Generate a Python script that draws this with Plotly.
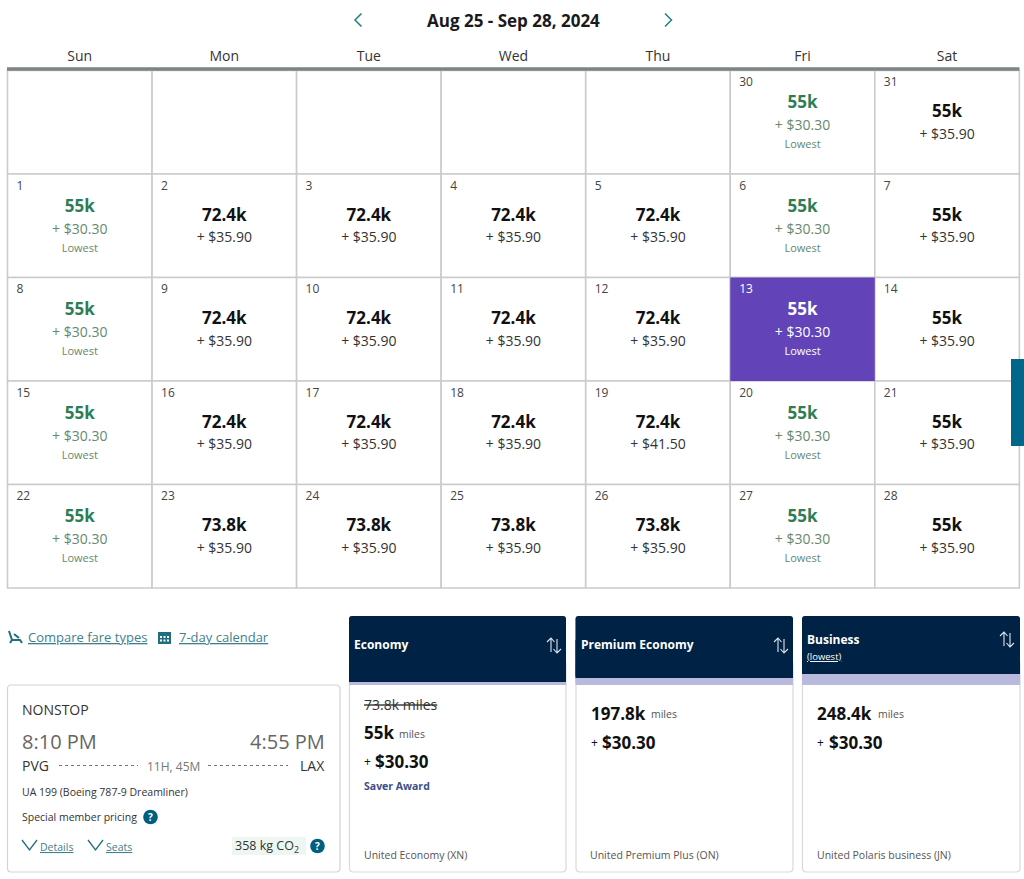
import plotly.graph_objects as go

# ---------- data ----------
weekdays = ["Sun", "Mon", "Tue", "Wed", "Thu", "Fri", "Sat"]
title = "Aug 25 - Sep 28, 2024"
dates = [30, 31, 1, 2, 3, 4, 5, 6, 7, 8, 9, 10, 11, 12, 13, 14, 15, 16, 17, 18, 19, 20, 21, 22, 23, 24, 25, 26, 27, 28]
miles = ["55k", "55k",
         "55k", "72.4k", "72.4k", "72.4k", "72.4k", "55k", "55k",
         "55k", "72.4k", "72.4k", "72.4k", "72.4k", "55k", "55k",
         "55k", "72.4k", "72.4k", "72.4k", "72.4k", "55k", "55k",
         "55k", "73.8k", "73.8k", "73.8k", "73.8k", "55k", "55k"]
fees = ["$30.30", "$35.90",
        "$30.30", "$35.90", "$35.90", "$35.90", "$35.90", "$30.30", "$35.90",
        "$30.30", "$35.90", "$35.90", "$35.90", "$35.90", "$30.30", "$35.90",
        "$30.30", "$35.90", "$35.90", "$35.90", "$41.50", "$30.30", "$35.90",
        "$30.30", "$35.90", "$35.90", "$35.90", "$35.90", "$30.30", "$35.90"]
lowest_fee = "$30.30"
selected_date = 13
first_col = 5

fare_names = ["Economy", "Premium Economy", "Business"]
fare_miles = ["55k", "197.8k", "248.4k"]
fare_fees = ["$30.30", "$30.30", "$30.30"]
fare_products = ["United Economy (XN)", "United Premium Plus (ON)", "United Polaris business (JN)"]

# ---------- style / layout ----------
FONT = "Open Sans"
GRID = "#cbcbcb"
GREEN = "#2f7d55"
GREY_GREEN = "#64896f"
DARK = "#111111"
TEXT = "#333333"
TEAL = "#1f6f80"
NAVY = "#002244"
LAV = "#b9b9de"
PURPLE = "#6244b8"

X0, CW = 7.5, 144.55
Y0, RH = 70.5, 103.5

shapes, ann = [], []


def txt(x, y, s, size=12, color=TEXT, bold=False, anchor="left", line=None):
    f = dict(family=FONT, size=size, color=color, weight=700 if bold else 400)
    if line:
        f["lineposition"] = line
    ann.append(dict(x=x, y=y, text=s, showarrow=False, xanchor=anchor, yanchor="middle",
                    font=f, xref="x", yref="y", borderpad=0, borderwidth=0))


def rect(x0, y0, x1, y1, fill=None, line=None, w=1, layer="below"):
    shapes.append(dict(type="rect", x0=x0, y0=y0, x1=x1, y1=y1, xref="x", yref="y",
                       fillcolor=fill or "rgba(0,0,0,0)",
                       line=dict(color=line or "rgba(0,0,0,0)", width=w if line else 0), layer=layer))


def path(d, color=None, w=1.3, fill=None):
    shapes.append(dict(type="path", path=d, xref="x", yref="y",
                       line=dict(color=color or "rgba(0,0,0,0)", width=w if color else 0),
                       fillcolor=fill or "rgba(0,0,0,0)", layer="above"))


def rrect(x0, y0, x1, y1, r, line, w=1.2, fill="#ffffff"):
    d = (f"M{x0+r},{y0} L{x1-r},{y0} Q{x1},{y0} {x1},{y0+r} L{x1},{y1-r} Q{x1},{y1} {x1-r},{y1} "
         f"L{x0+r},{y1} Q{x0},{y1} {x0},{y1-r} L{x0},{y0+r} Q{x0},{y0} {x0+r},{y0} Z")
    shapes.append(dict(type="path", path=d, xref="x", yref="y", line=dict(color=line, width=w),
                       fillcolor=fill, layer="below"))


def seg(x0, y0, x1, y1, color, w=1.0, dash=None):
    shapes.append(dict(type="line", x0=x0, y0=y0, x1=x1, y1=y1, xref="x", yref="y",
                       line=dict(color=color, width=w, dash=dash or "solid"), layer="above"))


def chevron_down(x, y, w=7.5, h=5, color=TEAL):
    path(f"M{x-w},{y-h} L{x},{y+h} L{x+w},{y-h}", color, 1.3)


def sort_icon(x, y):
    path(f"M{x-3},{y+7} L{x-3},{y-7} M{x-7},{y-3} L{x-3},{y-7} L{x+0.5},{y-3}", "#dfe6ee", 1.1)
    path(f"M{x+3},{y-6} L{x+3},{y+8} M{x-0.5},{y+4} L{x+3},{y+8} L{x+7},{y+4}", "#dfe6ee", 1.1)


def help_icon(x, y):
    shapes.append(dict(type="circle", x0=x-7.3, y0=y-7.3, x1=x+7.3, y1=y+7.3, xref="x", yref="y",
                       fillcolor="#005f7f", line=dict(width=0), layer="below"))
    txt(x, y, "?", 10, "#ffffff", True, "center")


# ---------- header ----------
txt(513, 20, title, 17, "#1a1a1a", True, "center")
path("M361.5,13.5 L355,20 L361.5,26.5", "#1f7f80", 1.5)
path("M665,13.5 L671.5,20 L665,26.5", "#1f7f80", 1.5)
wx = [X0 + CW * (i + 0.5) for i in range(7)]

# ---------- calendar cells ----------
cols = [(first_col + i) % 7 for i in range(len(dates))]
rows = [(first_col + i) // 7 for i in range(len(dates))]
for r in range(5):
    for c in range(7):
        rect(X0 + c * CW, Y0 + r * RH, X0 + (c + 1) * CW, Y0 + (r + 1) * RH, "#ffffff", GRID, 1.6)
for d, c, r in zip(dates, cols, rows):
    if d == selected_date:
        rect(X0 + c * CW, Y0 + r * RH, X0 + (c + 1) * CW, Y0 + (r + 1) * RH, PURPLE, None)
rect(X0 - 0.5, 67.2, 1019.5, 70.8, "#7b8583", None, layer="above")
rect(1011, 359, 1024, 446, "#00678a", None, layer="above")

traces = []


def tr(xs, ys, texts, sizes, colors, pos, weights=None):
    traces.append(go.Scatter(x=xs, y=ys, text=texts, mode="text", textposition=pos, hoverinfo="skip",
                             showlegend=False,
                             textfont=dict(family=FONT, size=sizes, color=colors,
                                           weight=weights if weights else 400)))


tr(wx, [57] * 7, weekdays, 14, "#333333", "middle center")

cx = [X0 + CW * (c + 0.5) for c in cols]
top = [Y0 + RH * r for r in rows]
is_low = [f == lowest_fee for f in fees]
is_sel = [d == selected_date for d in dates]

tr([X0 + CW * c + 9 for c in cols], [t + 12.5 for t in top], [str(d) for d in dates], 12,
   ["#ffffff" if s else "#444444" for s in is_sel], "middle right")
tr(cx, [t + (33.3 if l else 42.3) for t, l in zip(top, is_low)], miles, 17,
   ["#ffffff" if s else (GREEN if l else DARK) for s, l in zip(is_sel, is_low)], "middle center", 700)
tr(cx, [t + (56.3 if l else 64.8) for t, l in zip(top, is_low)], ["+ " + f for f in fees], 14,
   ["#ffffff" if s else (GREY_GREEN if l else TEXT) for s, l in zip(is_sel, is_low)], "middle center")
lx = [x for x, l in zip(cx, is_low) if l]
ly = [t + 75 for t, l in zip(top, is_low) if l]
tr(lx, ly, ["Lowest"] * len(lx), 11,
   ["#ffffff" if s else GREY_GREEN for s, l in zip(is_sel, is_low) if l], "middle center")

# ---------- links row ----------
txt(28, 636.5, "Compare fare types", 13, "#3f7f8c", False, "left", "under")
txt(179, 636.5, "7-day calendar", 13, "#3f7f8c", False, "left", "under")
# seat icon
path("M9,631 L12,640 L20,640 L22,643 M12,640 L10,643 M14,634 L19,638", "#1f6f80", 2)
# calendar icon
rect(158, 632, 171, 644, "#1f6f80", None, layer="above")
for gx in (160, 163.5, 167):
    for gy in (636, 639.5):
        rect(gx, gy, gx + 2, gy + 2, "#ffffff", None, layer="above")

# ---------- flight card ----------
rrect(7.5, 685, 340, 872, 4, "#d3d3d3")
txt(22, 709.5, "NONSTOP", 14, "#333333")
txt(22, 741.5, "8:10 PM", 20, "#666666")
txt(325, 741.5, "4:55 PM", 20, "#666666", False, "right")
txt(22, 765, "PVG", 14, "#333333")
txt(325, 765, "LAX", 14, "#333333", False, "right")
txt(173, 766, "11H, 45M", 12, "#777777", False, "center")
seg(59, 765.5, 138, 765.5, "#777777", 1, "dot")
seg(208, 765.5, 288, 765.5, "#777777", 1, "dot")
txt(22, 792, "UA 199 (Boeing 787-9 Dreamliner)", 10.5, "#333333")
txt(22, 817, "Special member pricing", 10.5, "#333333")
help_icon(150.5, 817)
chevron_down(29.5, 845)
txt(40, 846.5, "Details", 10.5, "#3f7f8c", False, "left", "under")
chevron_down(95.5, 845)
txt(106, 846.5, "Seats", 10.5, "#3f7f8c", False, "left", "under")
rect(232, 837, 306, 855, "#eef6f1", None)
txt(235, 846, "358 kg CO<sub>2</sub>", 12.5, "#333333")
help_icon(317.5, 846)

# ---------- fare cards ----------
card_x0 = [349, 575.5, 802]
card_x1 = [566, 793, 1020]
head_bottom = [682, 678, 674]
for i in range(3):
    x0, x1 = card_x0[i], card_x1[i]
    rrect(x0 + 0.5, 660, x1, 872, 4, "#d9d9d9")
    rrect(x0, 616, x1, 685, 3, LAV, 0, LAV)
    rect(x0, 670, x1, 685, LAV, None)
    rrect(x0, 616, x1, head_bottom[i], 3, NAVY, 0, NAVY)
    rect(x0, 640, x1, head_bottom[i], NAVY, None)
    txt(x0 + 14.5, 855, fare_products[i], 10.5, "#555555")

txt(354, 644.5, fare_names[0], 12, "#ffffff", True)
sort_icon(554, 645)
txt(581, 644.5, fare_names[1], 12, "#ffffff", True)
sort_icon(781, 645)
txt(807, 639, fare_names[2], 12, "#ffffff", True)
txt(807, 656, "(lowest)", 9.5, "#ffffff", False, "left", "under")
sort_icon(1007, 639)

txt(364, 704.5, "73.8k miles", 14, "#333333", False, "left", "through")
txt(364, 732, fare_miles[0], 17, DARK, True)
txt(399, 733.5, "miles", 10.5, "#555555")
txt(364, 761, "+", 12, DARK)
txt(375, 761, fare_fees[0], 17, DARK, True)
txt(364, 786, "Saver Award", 10.5, "#3b4f87", True)

for i, x, mx in ((1, 590.5, 651), (2, 817, 878)):
    txt(x, 713.5, fare_miles[i], 17, DARK, True)
    txt(mx, 714, "miles", 10.5, "#555555")
    txt(x, 742, "+", 12, DARK)
    txt(x + 11.5, 742.5, fare_fees[i], 17, DARK, True)

fig = go.Figure(traces)
fig.update_layout(
    width=1024, height=879, margin=dict(l=0, r=0, t=0, b=0), autosize=False,
    paper_bgcolor="#ffffff", plot_bgcolor="#ffffff", showlegend=False,
    xaxis=dict(range=[0, 1024], visible=False, fixedrange=True),
    yaxis=dict(range=[879, 0], visible=False, fixedrange=True),
    shapes=shapes, annotations=ann,
)
fig.write_html("out.html", config={"displayModeBar": False},
               post_script="document.body.style.margin='0';document.body.style.overflow='hidden';")
